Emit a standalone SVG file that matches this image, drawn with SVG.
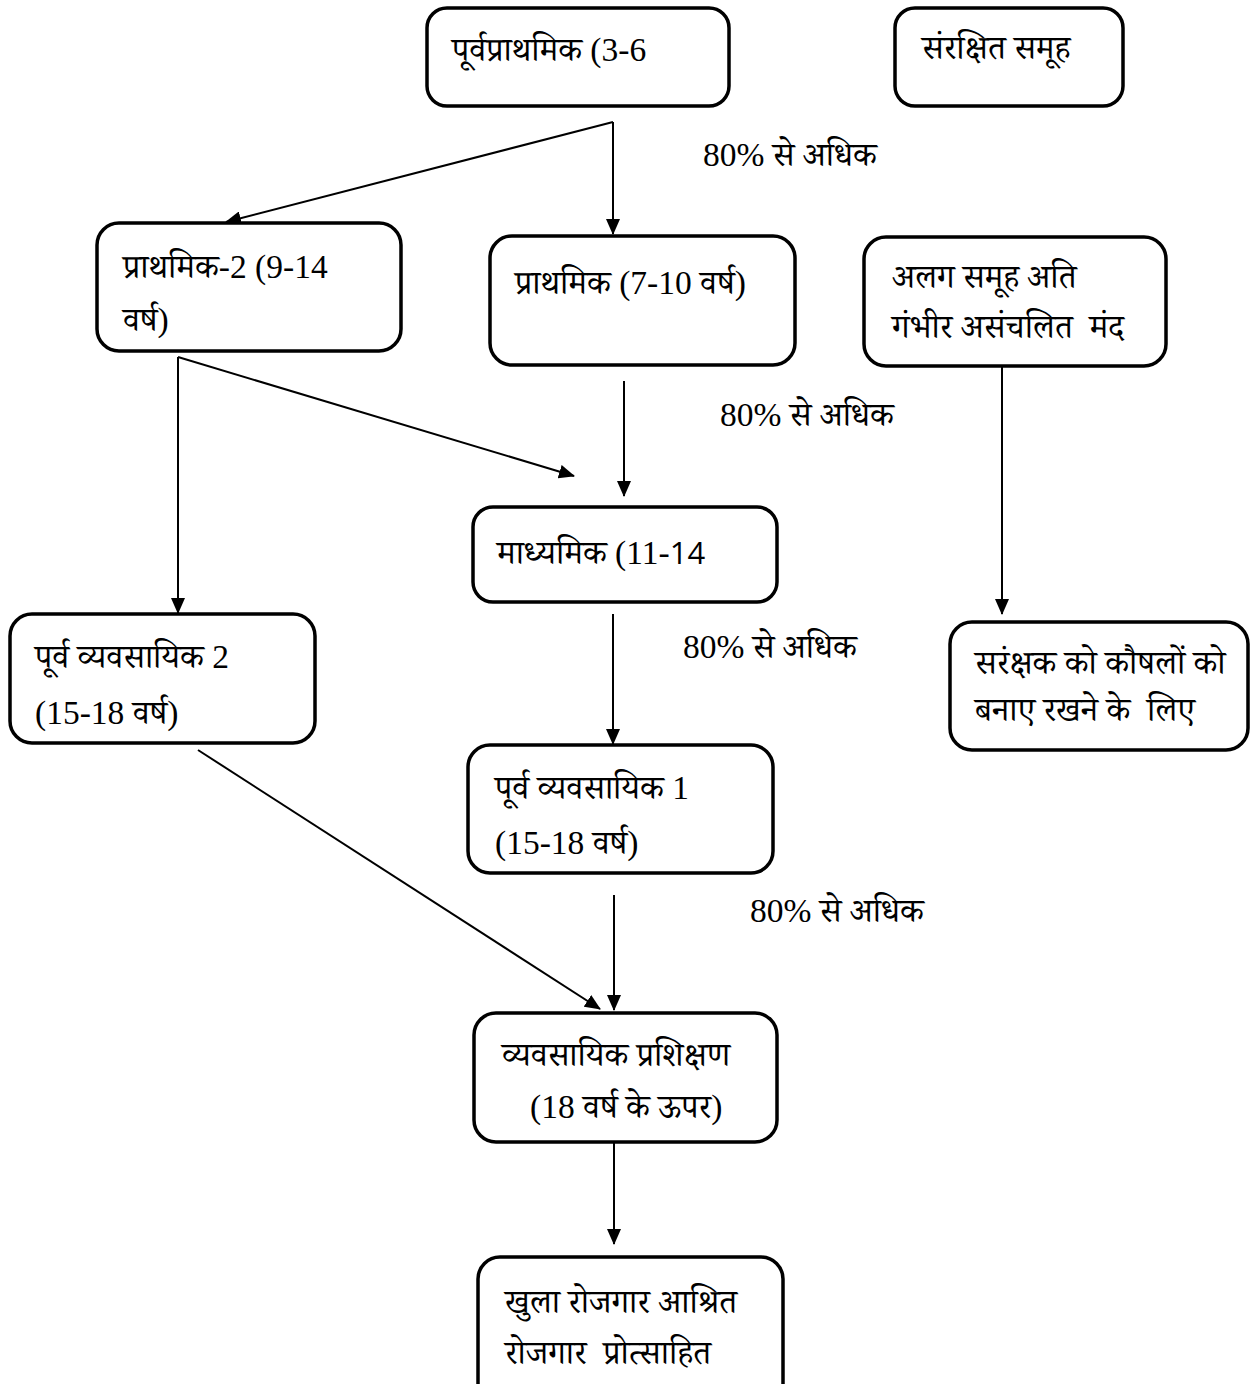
<svg xmlns="http://www.w3.org/2000/svg" width="1250" height="1384" viewBox="0 0 1250 1384">
<style>
.box{fill:#fff;stroke:#000;stroke-width:3.5}
.t{font-family:"Liberation Serif","Noto Serif Devanagari","Noto Sans Devanagari","Noto Sans",serif;font-size:33.5px;fill:#000;white-space:pre}
.c{stroke:#000;stroke-width:2;fill:none;marker-end:url(#ah)}
.sans{font-family:"Open Sans","Liberation Sans",sans-serif;font-size:31px}
</style>
<defs>
<marker id="ah" viewBox="0 0 16 14" refX="15" refY="7" markerWidth="16" markerHeight="14" markerUnits="userSpaceOnUse" orient="auto">
<path d="M0,0 L16,7 L0,14 z" fill="#000"/>
</marker>
</defs>
<rect width="1250" height="1384" fill="#fff"/>
<g id="connectors">
<line class="c" x1="613" y1="122" x2="226" y2="222"/>
<line class="c" x1="613" y1="122" x2="613" y2="234"/>
<line class="c" x1="178" y1="357" x2="574" y2="476"/>
<line class="c" x1="178" y1="357" x2="178" y2="613"/>
<line class="c" x1="624" y1="381" x2="624" y2="496"/>
<line class="c" x1="1002" y1="366" x2="1002" y2="614"/>
<line class="c" x1="613" y1="614" x2="613" y2="744"/>
<line class="c" x1="198" y1="750" x2="600" y2="1009"/>
<line class="c" x1="614" y1="895" x2="614" y2="1010"/>
<line class="c" x1="614" y1="1142" x2="614" y2="1244"/>
</g>
<g id="labels">
<text class="t" x="703" y="166">80% से अधिक</text>
<text class="t" x="720" y="426">80% से अधिक</text>
<text class="t" x="683" y="658">80% से अधिक</text>
<text class="t" x="750" y="922">80% से अधिक</text>
</g>
<g id="n1"><rect class="box" x="427" y="8" width="302" height="98" rx="20"/><text class="t" x="452" y="61">पूर्वप्राथमिक (3-6</text></g>
<g id="n2"><rect class="box" x="895" y="8" width="228" height="98" rx="20"/><text class="t" x="922" y="59">संरक्षित समूह</text></g>
<g id="n3"><rect class="box" x="97" y="223" width="304" height="128" rx="22"/><text class="t" x="123" y="278">प्राथमिक-2 (9-14</text><text class="t" x="123" y="331">वर्ष)</text></g>
<g id="n4"><rect class="box" x="490" y="236" width="305" height="129" rx="22"/><text class="t" x="515" y="294">प्राथमिक (7-10 वर्ष)</text></g>
<g id="n5"><rect class="box" x="864" y="237" width="302" height="129" rx="22"/><text class="t" x="892" y="288">अलग समूह अति</text><text class="t" x="892" y="338">गंभीर असंचलित  मंद</text></g>
<g id="n6"><rect class="box" x="473" y="507" width="304" height="95" rx="20"/><text class="t" x="497" y="564">माध्यमिक (11-<tspan class="sans">14</tspan></text></g>
<g id="n7"><rect class="box" x="10" y="614" width="305" height="129" rx="22"/><text class="t" x="35" y="668">पूर्व व्यवसायिक 2</text><text class="t" x="35" y="724">(15-18 वर्ष)</text></g>
<g id="n8"><rect class="box" x="950" y="622" width="298" height="128" rx="22"/><text class="t" x="975" y="674">सरंक्षक को कौषलों को</text><text class="t" x="975" y="721">बनाए रखने के  लिए</text></g>
<g id="n9"><rect class="box" x="468" y="745" width="305" height="128" rx="22"/><text class="t" x="495" y="799">पूर्व व्यवसायिक 1</text><text class="t" x="495" y="854">(15-18 वर्ष)</text></g>
<g id="n10"><rect class="box" x="474" y="1013" width="303" height="129" rx="22"/><text class="t" x="502" y="1066">व्यवसायिक प्रशिक्षण</text><text class="t" x="530" y="1118">(18 वर्ष के ऊपर)</text></g>
<g id="n11"><rect class="box" x="478" y="1257" width="305" height="150" rx="22"/><text class="t" x="505" y="1313">खुला रोजगार आश्रित</text><text class="t" x="505" y="1364">रोजगार  प्रोत्साहित</text></g>
</svg>
